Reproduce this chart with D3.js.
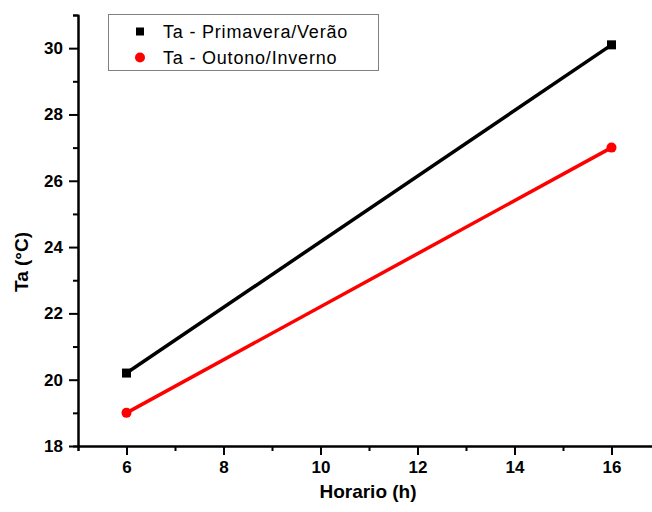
<!DOCTYPE html>
<html>
<head>
<meta charset="utf-8">
<script src="https://cdn.jsdelivr.net/npm/d3@7"></script>
<style>
  body { margin: 0; background: #fff; }
  text { font-family: "Liberation Sans", Arial, sans-serif; }
</style>
</head>
<body>
<div id="chart"></div>
<script>
// values
var horas = [6, 16]
var primaveraVerao = [20.2, 30.1]
var outonoInverno = [19.0, 27.0]
var seriesNames = ["Ta - Primavera/Verão", "Ta - Outono/Inverno"]
var seriesColors = ["#000000", "#ff0000"]
var xMajor = [6, 8, 10, 12, 14, 16]
var xMinor = [5, 7, 9, 11, 13, 15, 17]
var yMajor = [18, 20, 22, 24, 26, 28, 30]
var yMinor = [19, 21, 23, 25, 27, 29, 31]

var width = 652, height = 512

var svg = d3.select("#chart")
    .append("svg")
    .attr("width", width)
    .attr("height", height)

svg.append("rect").attr("width", width).attr("height", height).attr("fill", "white")

var x = d3.scaleLinear().domain([5, 17]).range([78, 660])
var y = d3.scaleLinear().domain([18, 31]).range([446, 15])

// minor ticks
svg.append("g")
    .attr("transform", "translate(0,446)")
    .call(d3.axisBottom(x).tickValues(xMinor).tickSize(5).tickFormat(""))
svg.append("g")
    .attr("transform", "translate(78,0)")
    .call(d3.axisLeft(y).tickValues(yMinor).tickSize(5).tickFormat(""))

// major ticks
var xAxis = svg.append("g")
    .attr("transform", "translate(0,446)")
    .call(d3.axisBottom(x).tickValues(xMajor).tickSize(9).tickPadding(6).tickSizeOuter(0))
var yAxis = svg.append("g")
    .attr("transform", "translate(78,0)")
    .call(d3.axisLeft(y).tickValues(yMajor).tickSize(9).tickPadding(6).tickSizeOuter(0))

svg.selectAll(".domain").attr("stroke-width", 2)
svg.selectAll(".tick line").attr("stroke-width", 2)
svg.selectAll(".tick text")
    .style("font-size", "17px")
    .style("font-weight", "bold")
    .attr("fill", "#000")

// axis titles
svg.append("text")
    .attr("x", 368)
    .attr("y", 498)
    .attr("text-anchor", "middle")
    .style("font-size", "19px")
    .style("font-weight", "bold")
    .text("Horario (h)")

svg.append("text")
    .attr("transform", "translate(28,262) rotate(-90)")
    .attr("text-anchor", "middle")
    .style("font-size", "19px")
    .style("font-weight", "bold")
    .text("Ta (°C)")

// lines and markers
var line = d3.line()
    .x(function (d) { return x(d[0]) })
    .y(function (d) { return y(d[1]) })

var allSeries = [primaveraVerao, outonoInverno]
allSeries.forEach(function (vals, i) {
    var pts = horas.map(function (h, j) { return [h, vals[j]] })
    svg.append("path")
        .datum(pts)
        .attr("d", line)
        .attr("fill", "none")
        .attr("stroke", seriesColors[i])
        .attr("stroke-width", 3.5)
    if (i == 0) {
        svg.selectAll(null).data(pts).enter().append("rect")
            .attr("x", function (d) { return x(d[0]) - 4.5 })
            .attr("y", function (d) { return y(d[1]) - 4.5 })
            .attr("width", 9)
            .attr("height", 9)
            .attr("fill", seriesColors[i])
    } else {
        svg.selectAll(null).data(pts).enter().append("circle")
            .attr("cx", function (d) { return x(d[0]) })
            .attr("cy", function (d) { return y(d[1]) })
            .attr("r", 5)
            .attr("fill", seriesColors[i])
    }
})

// legend
var legend = svg.append("g")
legend.append("rect")
    .attr("x", 108.5)
    .attr("y", 14.5)
    .attr("width", 270)
    .attr("height", 56)
    .attr("fill", "white")
    .attr("stroke", "#808080")
    .attr("stroke-width", 1)

seriesNames.forEach(function (name, i) {
    var cy = 31.5 + i * 26
    if (i == 0) {
        legend.append("rect").attr("x", 136).attr("y", cy - 4).attr("width", 8).attr("height", 8).attr("fill", seriesColors[i])
    } else {
        legend.append("circle").attr("cx", 140).attr("cy", cy).attr("r", 5).attr("fill", seriesColors[i])
    }
    legend.append("text")
        .attr("x", 163)
        .attr("y", cy + 6.5)
        .style("font-size", "18px")
        .style("letter-spacing", "0.8px")
        .text(name)
})
</script>
</body>
</html>
